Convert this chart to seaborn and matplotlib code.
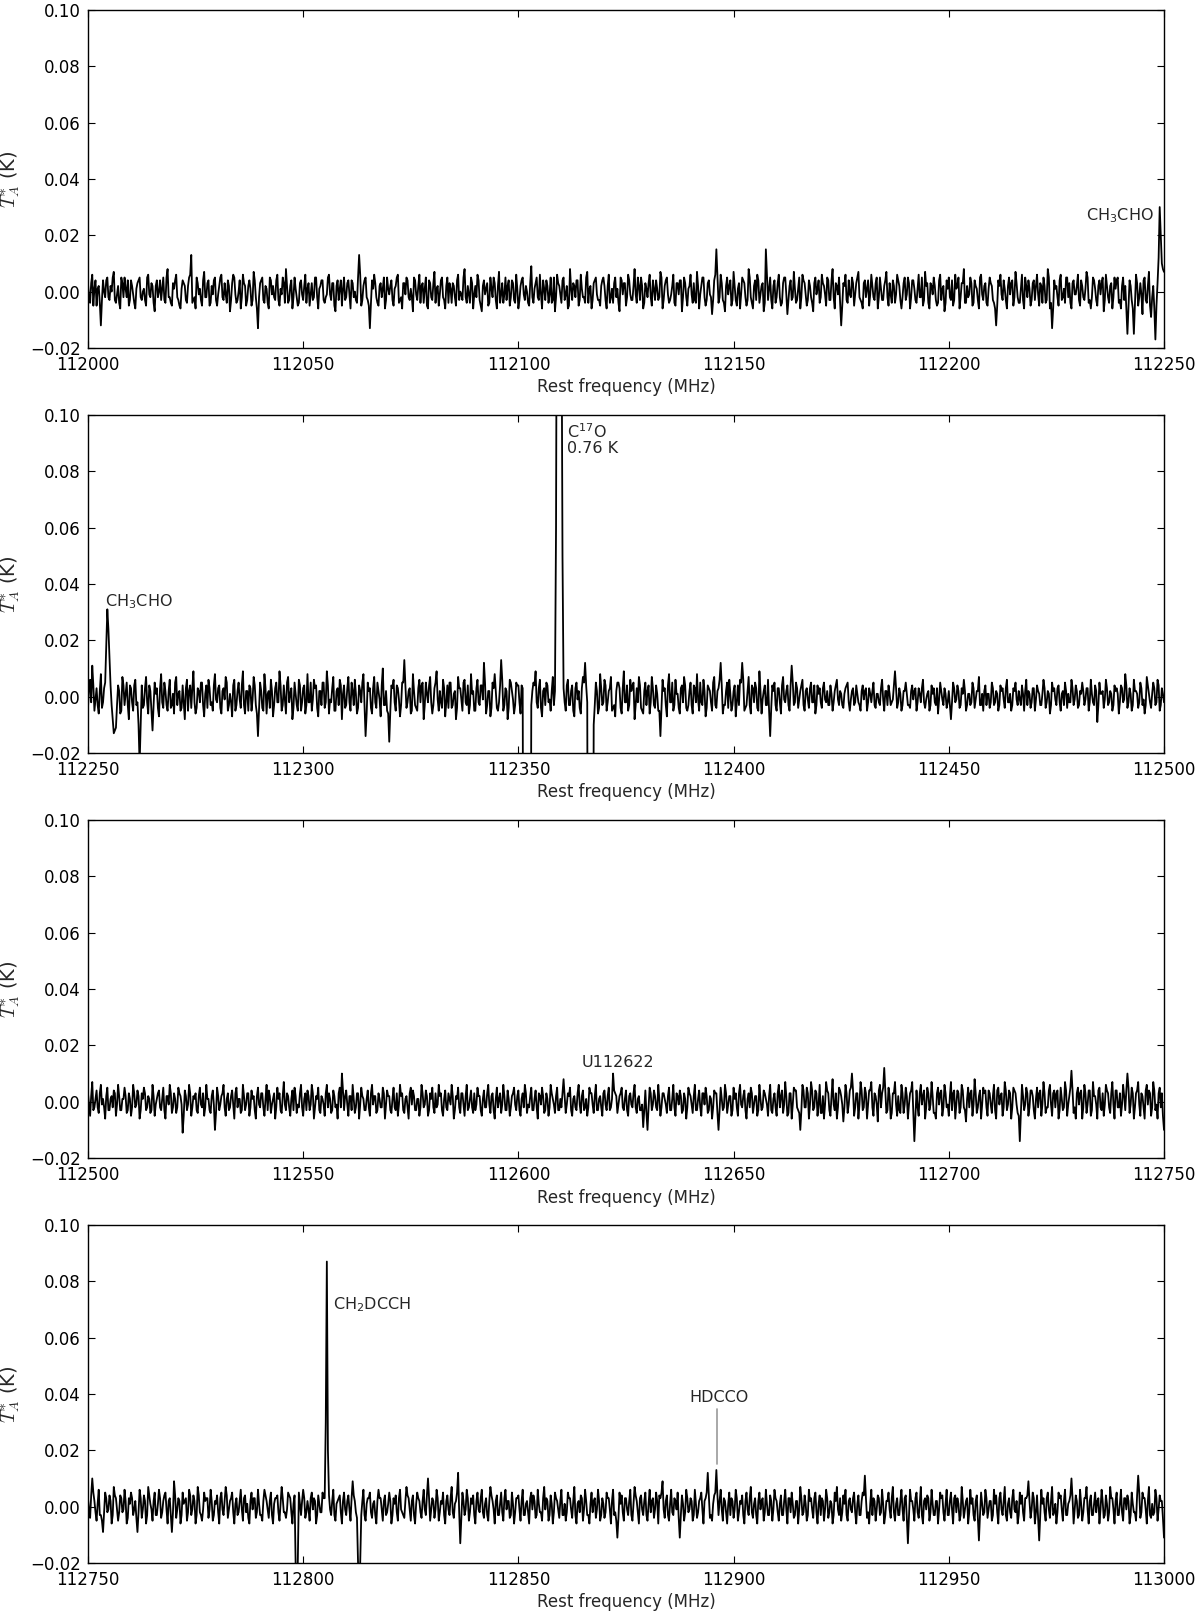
import numpy as np
import pandas as pd
import matplotlib
matplotlib.use("Agg")
import matplotlib.pyplot as plt
import seaborn as sns

# ---------------- data (antenna temperature in mK) ----------------
# main channels every 0.5 MHz, plus in-between channels (offset 0.25 MHz)
panel_starts = [112000, 112250, 112500, 112750]
channel_step = 0.5

spec1_mK = """
3 -4 6 1 -5 2 -12 4 -2 5 -3 0 7 -4 2 -6 3 5 -2 -5
4 -1 -6 3 5 -3 1 -5 6 -2 2 -7 4 0 -3 5 -4 8 -2 -5
1 6 -3 -6 4 2 -4 5 13 -3 -6 3 1 -5 7 -2 4 -4 -1 5
-5 2 6 -3 -1 4 -7 3 5 -4 0 -6 6 2 -3 4 -5 7 -2 -13
3 5 -4 1 -6 4 2 -3 6 -5 -1 3 8 -4 2 -6 5 -2 -4 4
-3 6 1 -5 3 -2 5 -6 2 4 -4 -1 6 -3 3 -7 4 1 -5 5
-2 4 -6 3 0 -4 13 -5 2 5 -3 -13 4 6 -2 -5 3 1 -6 5
-1 4 -5 2 6 -3 -6 3 5 -2 1 -7 4 -3 6 2 -4 5 -6 3
-3 7 1 -5 4 -2 -6 5 3 -4 2 -5 6 0 -3 8 -4 -1 5 -6
2 6 -3 -7 4 1 -5 5 -2 3 -6 7 -1 -4 5 2 -5 4 -3 6
-6 2 5 -3 0 -5 9 -4 3 -2 6 -6 1 4 -4 5 -3 -7 6 2
-4 5 -1 -6 8 -3 2 4 -5 6 -2 -4 7 1 -6 3 5 -3 -5 4
2 -6 6 -2 -4 5 1 -7 4 3 -5 6 -1 -3 8 -4 2 5 -6 3
-2 6 -5 1 4 -3 7 -6 2 5 -4 -1 6 -5 3 4 -7 5 -2 1
6 -4 -3 7 -6 2 5 -5 3 -1 -8 4 15 -4 6 -3 -7 5 2 -5
7 -3 1 -6 5 3 -5 8 -2 -6 4 6 -4 2 -7 15 -3 5 -6 4
-2 6 -5 3 5 -8 2 -3 7 -4 1 -6 6 3 -5 4 -2 -7 5 1
-4 6 2 -5 4 -3 8 -6 2 5 -12 3 6 -4 -1 5 -5 3 7 -3
-6 4 1 -5 6 -2 3 -6 5 -3 2 7 -5 -1 4 -4 6 2 -6 3
-3 5 -6 4 1 -4 6 -2 -5 7 3 -6 2 5 -3 -4 6 1 -7 4
5 -3 -5 6 2 -6 3 8 -4 -2 5 -5 4 1 -6 6 -3 3 -5 5
2 -4 -12 4 6 -3 1 -6 5 3 -5 7 -2 -4 6 -6 2 4 -5 3
-3 6 -5 2 5 -4 8 -6 -13 4 2 -5 6 -2 -4 5 3 -6 4 -1
6 -5 2 -3 7 -4 -6 5 1 -5 4 3 -7 6 -2 2 -6 5 4 -4
-6 5 2 -15 4 -3 -15 6 -5 3 -8 5 -4 7 -9 2 -17 3 30 10
7
"""
mid1_mK = """
-2 3 -5 4 1 -4 -3 0 4 -2 2 5 -3 -1 -4 5 -2 1 4 -3
2 -4 1 4 -2 0 -3 5 -1 3 -4 2 -2 4 1 -3 5 -2 -4 3
4 -2 -5 1 3 -3 2 6 -4 -2 5 -1 -3 4 -2 3 -5 2 4 -3
-1 5 -2 3 -4 2 -3 6 -1 -3 4 -2 3 -5 2 1 -3 4 -6 -2
4 -3 2 -4 5 -1 -2 4 -3 1 5 -4 2 -3 4 -2 1 -5 3 -1
2 -4 3 -1 -3 5 -2 1 4 -3 -2 5 -1 3 -5 2 -3 4 1 -3
3 -1 4 -2 -3 5 6 -3 4 -2 -5 -4 1 3 -4 2 -2 5 -3 1
2 -3 1 5 -4 -2 3 -1 4 -3 -2 5 -1 2 -4 3 1 -5 4 -2
3 -4 2 -1 5 -3 2 -4 1 3 -2 4 -3 -1 5 -2 2 -4 3 -1
-2 4 -5 2 -1 3 -4 1 5 -3 2 -4 3 -1 -3 4 -2 3 -4 1
-3 4 -1 2 -4 3 -2 1 5 -3 -1 4 -3 2 -1 -4 5 -2 3 -1
4 -3 2 -5 1 3 -2 4 -3 1 -2 5 -4 2 -3 4 -1 -3 2 5
-3 2 -4 1 3 -2 -4 5 -1 3 -2 4 -3 2 -1 5 -3 2 -4 1
3 -2 4 -3 1 -2 5 -3 4 -1 -3 2 -4 3 -1 4 -2 3 -5 2
-1 3 -4 2 -1 5 -2 -3 4 -2 -3 6 5 -2 3 -4 2 -1 4 -3
2 -5 3 -1 4 -2 -3 5 -4 2 -3 4 -1 3 -4 6 1 -3 2 -4
3 -2 -4 5 -1 -3 4 -2 1 -3 5 -2 4 -1 -3 2 -4 3 -1 4
-2 3 -1 5 -3 4 -2 3 -1 -4 -5 2 -3 4 -2 3 -1 5 -2 -4
3 -2 4 -1 2 -3 5 -2 1 -3 4 -2 3 -4 2 -1 4 -3 -2 5
-1 3 -2 4 -3 1 -2 5 -3 2 -4 3 -1 2 -5 4 -3 2 -4 1
-2 4 -3 1 5 -2 3 -4 2 -1 3 -4 2 -3 5 -1 2 -4 1 3
-3 -6 -5 2 -1 4 -3 2 -1 4 -2 3 -4 1 -3 5 -2 1 -3 4
2 -1 3 -4 2 -3 5 -4 -6 1 -2 4 -3 1 5 -2 -4 3 -1 2
-3 4 -2 1 5 -3 -2 4 -3 2 -1 5 -3 2 -4 3 -2 1 5 -3
2 -3 -6 -5 2 -6 -4 3 -2 -1 4 -3 2 -5 -2 -6 -5 12 20 8
"""

spec2_mK = """
-4 6 11 -5 3 -6 8 -2 5 31 14 -3 -13 -11 4 -6 7 -3 5 -8
3 -5 6 -2 -24 4 -3 7 -6 2 -12 5 3 -7 8 -4 2 -5 6 -3
-6 7 1 -5 4 -8 6 2 -4 9 -6 3 -2 5 -7 4 6 -3 -5 8
-2 4 -6 3 7 -5 1 -7 6 -3 5 -4 9 -6 2 4 -5 7 -3 -14
5 -4 8 -6 2 6 -7 3 -2 9 -5 4 -6 7 1 -8 5 -3 6 -5
3 -6 8 -2 -5 6 4 -7 2 5 -4 9 -6 -2 7 -5 3 6 -8 4
-3 7 -5 2 6 -6 4 -2 8 -14 5 3 -6 7 -4 2 -7 10 -3 -5
-16 4 6 -5 3 -7 5 13 -4 2 -6 8 -3 -5 6 4 -8 5 -2 7
-6 3 9 -5 -2 6 -7 4 5 -4 1 -8 7 3 -5 6 -3 -6 8 2
-5 6 -3 4 12 -6 2 -7 5 8 -4 -2 13 -5 3 -8 6 2 -6 5
4 -6 3 -300 -250 -300 -3 5 9 -4 6 -7 3 5 -2 -5 7 2 200 760
150 3 -5 6 -3 4 -7 5 2 -6 7 12 -2 -300 -280 -10 5 -6 8 -3
6 -5 2 7 -4 -7 5 3 -6 9 -2 -5 6 4 -8 3 7 -4 -6 5
2 -6 7 -3 4 -5 -14 6 3 -7 8 -2 -5 6 1 -6 4 7 -4 -3
5 -6 3 8 -5 -2 6 -7 4 2 -5 7 -4 3 12 -6 -3 5 6 -5
2 -7 4 6 12 -5 -3 7 -6 3 5 -4 9 -6 2 -3 6 -14 4 5
-5 3 -6 7 -2 4 -5 11 -3 5 -4 2 6 -5 3 -4 5 -2 -6 4
3 -4 5 -2 -3 4 -5 2 6 -3 1 -4 3 5 -5 2 -3 4 -2 -5
4 2 -5 3 -2 5 -4 1 -3 6 -5 2 4 -3 -1 9 -4 3 -5 2
5 -3 -4 4 2 -5 3 -2 6 -4 1 -5 4 3 -3 -6 5 -1 3 -4
2 -8 5 -2 4 -4 3 6 -5 1 -3 5 -4 2 7 -3 -5 4 1 -4
5 -3 2 -5 4 3 -4 6 -2 -5 3 5 -3 -1 4 -5 6 2 -4 3
-5 4 1 -3 6 -4 2 -6 5 3 -3 4 -5 2 5 -4 -2 6 -3 4
-4 2 5 -3 3 -5 6 -2 4 -9 5 1 -4 6 -3 2 -5 4 3 -6
4 -2 8 -4 3 -5 6 2 -4 5 -3 -6 7 1 -4 5 -3 6 -5 3
-2
"""
mid2_mK = """
3 -2 4 -1 -3 2 -4 3 18 24 4 -8 -12 -3 2 -5 4 1 -3 4
-2 4 -3 -10 -10 -4 3 -2 4 -5 -3 1 -4 3 -2 5 -3 2 -4 1
5 -3 2 -4 -2 3 -5 4 3 -2 -4 2 5 -3 1 -4 3 -2 4 -1
3 -4 2 -1 5 -3 -2 4 -5 2 -1 4 -3 2 -5 3 -1 4 -6 -4
2 -5 3 1 -4 2 -3 5 -2 4 -3 -1 5 -2 3 -4 1 -5 4 -2
4 -3 -2 5 -1 3 -4 2 -3 5 -2 4 -1 3 -5 2 -3 4 1 -4
3 -2 5 -3 1 -4 2 5 -3 -6 2 -4 3 -2 5 -1 4 -3 2 -6
-5 3 -2 4 -1 -3 5 4 -2 3 -5 2 -4 3 -2 5 -3 1 4 -2
-3 5 -1 2 -4 3 -2 -4 5 -3 2 -4 3 -1 5 -2 4 -3 1 -5
3 -2 4 -1 5 -3 2 -4 3 2 -5 4 6 -3 2 -4 5 -1 -3 4
-2 4 -150 -280 -280 -150 2 4 -2 3 -4 2 -3 4 -1 2 -3 60 500 450
50 -2 4 -3 2 -5 3 -1 -4 3 5 4 -150 -290 -140 -3 2 -4 3 -2
4 -2 3 -5 -3 2 5 -4 3 -2 4 -3 2 5 -3 -2 4 -5 2 -3
4 -2 3 -4 1 -5 -4 2 -3 4 -2 5 -3 1 -4 3 -2 4 -5 2
-3 4 -2 -1 5 -3 2 -4 3 -2 5 -3 2 6 4 -3 2 -4 1 -3
4 -2 -3 5 6 -4 2 -3 4 -2 3 -5 2 -1 4 -3 -5 -4 2 -3
3 -2 4 -1 2 -3 4 5 -2 3 -1 4 -3 2 -1 3 -2 4 -3 1
-2 3 -1 2 -3 1 -2 4 -1 2 -3 1 4 -2 -1 3 -2 1 -3 2
-1 3 -2 1 2 -3 1 -2 3 -1 2 -3 1 -2 4 3 -2 1 -3 2
1 -3 2 -1 3 -2 1 3 -2 -1 2 -3 1 -2 3 -1 2 -3 1 -2
-3 -2 3 -1 2 -3 1 2 -3 1 -2 3 -1 2 -3 1 2 -3 1 -2
3 -2 1 -3 2 -1 3 -2 1 -3 2 -1 2 -3 1 2 -3 1 -2 3
-1 2 -3 1 3 -2 1 -3 2 -1 3 -2 1 -3 2 1 -2 3 -1 2
-3 1 2 -1 3 -2 1 -3 2 -3 1 2 -1 3 -2 1 -3 2 1 -2
3 -1 4 -2 1 -3 2 1 -2 3 -1 -3 4 -2 1 3 -2 4 -3 1
"""

spec3_mK = """
3 -5 7 -2 4 -4 6 1 -6 5 -3 2 4 -5 6 -3 1 5 -4 3
-5 6 -2 4 -6 3 5 -3 2 -4 6 -5 1 4 -3 5 -6 2 6 -4
3 -4 5 2 -11 4 -3 6 -5 2 3 -4 5 -2 -5 6 1 -4 4 -10
5 -3 2 6 -5 3 -2 4 -6 5 1 -4 6 -3 3 -5 4 2 -6 5
-2 3 -5 6 4 -4 1 -6 5 3 -4 7 -3 2 -5 4 5 -4 -2 6
-5 3 4 -3 6 -6 2 5 -4 1 -5 6 3 -4 4 -2 -6 5 10 -3
4 -5 2 6 -4 3 -6 5 1 -3 4 -5 6 2 -4 3 -2 5 -6 4
2 -4 5 -3 -5 6 3 -4 2 -6 5 4 -3 1 -5 6 -2 4 -5 3
5 -4 -2 6 3 -5 4 -3 1 6 -6 2 5 -4 3 -5 6 -2 4 -4
-3 5 2 -5 4 -2 6 -4 3 -6 5 1 -4 6 -3 4 -5 2 5 -3
4 -5 3 6 -4 -2 5 -3 4 -6 2 5 -4 3 -5 6 1 -4 5 -3
-2 8 -4 3 5 -5 2 -3 6 -4 4 -2 -5 5 3 -4 6 -3 2 -5
4 -3 5 -2 10 3 -4 2 5 -3 4 -5 3 -2 6 -4 2 -3 -9 4
-10 5 -3 4 -2 6 -5 3 1 -4 5 -3 6 -5 2 4 -4 3 -6 5
2 -4 6 -3 4 -5 3 5 -4 2 -6 4 3 -10 5 -3 6 -4 2 -5
5 3 -5 6 -2 4 -6 3 5 -4 2 -5 6 -3 4 1 -5 6 -4 3
-5 6 2 -4 7 -5 3 -6 5 4 -3 -10 6 -2 5 -6 7 -3 4 -5
6 -4 -6 7 3 -5 8 -3 -6 5 2 -7 6 -4 4 10 -5 3 -6 7
-3 5 -6 4 7 -5 2 -7 6 3 12 -4 5 -6 3 7 -5 -3 6 -4
5 -6 3 7 -14 4 -5 6 2 -6 5 -3 7 -4 -6 5 3 -5 6 -2
-5 7 3 -6 4 -4 6 -2 -7 5 3 -5 8 -4 2 -6 5 4 -5 3
-4 6 -6 5 2 -5 7 -3 4 -6 5 3 -4 -14 6 -3 5 -5 4 2
-6 5 3 -5 7 -4 -2 6 -5 4 3 -6 5 -3 7 -5 2 11 -4 -6
5 3 -6 6 -4 4 -5 7 2 -6 5 -3 -5 6 3 -4 7 -6 4 -2
-5 6 -3 10 -4 5 -6 3 7 -5 2 -6 6 4 -5 7 -3 -6 5 3
-10
"""
mid3_mK = """
-1 2 -3 1 -2 3 -1 -2 2 -3 1 -2 3 -1 2 -3 1 2 -3 1
-2 3 -1 2 -3 1 3 -2 1 -3 2 -1 3 -2 1 -3 2 -1 3 -2
1 -2 3 -1 -5 2 -1 3 -2 1 -3 2 -1 3 -2 1 -3 2 -1 -4
2 -1 3 -2 1 -3 2 -1 3 -2 1 -3 2 -1 3 -2 1 -3 2 -1
3 -2 1 -3 2 -1 3 -2 1 -3 2 -1 3 -2 1 -3 2 -1 3 -2
1 -3 2 -1 3 -2 1 -3 2 -1 3 -2 1 -3 2 -1 3 -2 4 2
-1 2 -3 1 -2 3 -1 2 -3 1 -2 3 -1 2 -3 1 -2 3 -1 2
-3 1 -2 3 -1 2 -3 1 -2 3 -1 2 -3 1 -2 3 -1 2 -3 1
-2 3 -1 2 -3 1 -2 3 -1 2 -3 1 -2 3 -1 2 -3 1 -2 3
-1 2 -3 1 -2 3 -1 2 -3 1 -2 3 -1 2 -3 1 -2 3 -1 2
-3 1 -2 3 -1 2 -3 1 -2 3 -1 2 -3 1 -2 3 -1 2 -3 1
3 2 -1 2 -3 1 -2 3 -1 2 -3 1 -2 3 -1 2 -3 1 -2 3
-1 2 -3 1 4 2 -1 3 -2 1 -3 2 -1 3 -2 1 -3 -1 -3 -4
-2 3 -1 2 -3 1 -2 3 -1 2 -3 1 -2 3 -1 2 -3 1 -2 3
-1 2 -3 1 -2 3 -1 2 -3 1 -2 3 -4 -3 1 -2 3 -1 2 -3
1 -2 3 -1 2 -3 1 -2 3 -1 2 -3 1 -2 3 -1 2 -3 1 -2
3 -2 4 -1 2 -4 3 -1 4 -2 -4 -3 4 -2 3 -1 4 -2 3 -1
-4 2 -1 4 -3 2 -1 3 -2 4 -1 -2 3 -1 5 4 -2 3 -1 4
-2 3 -1 4 -2 3 -1 4 -2 5 4 -3 2 -4 3 -1 2 -4 3 -1
2 -1 4 -4 -5 -2 3 -1 4 -2 3 -1 2 -4 3 -1 4 -2 3 -1
2 -3 4 -1 3 -2 4 -3 1 -2 4 -1 3 -2 4 -1 3 -2 4 -1
2 -3 4 -1 3 -2 4 -1 3 -2 4 -1 -5 -4 2 -1 3 -2 4 -3
1 -2 4 -1 3 -2 4 -1 3 -2 4 -3 1 -2 4 -1 5 4 -2 3
-1 4 -2 3 -1 4 -3 2 -1 4 -2 3 -1 4 -2 3 -1 4 -2 3
-1 2 4 5 -1 3 -2 4 -1 3 -2 4 -1 3 -2 4 -1 3 -2 -5
"""

spec4_mK = """
3 -4 10 2 -5 6 -3 -9 5 -2 4 -6 7 3 -5 4 -2 6 -6 3
5 -3 2 -9 6 -4 4 -6 7 1 -5 5 -3 6 -4 2 5 -6 3 -9
9 -4 3 -6 5 2 -5 6 -3 4 -6 7 -2 -5 5 3 -4 6 -5 2
4 -6 5 -3 7 -4 2 5 -6 3 -2 6 -5 4 1 -6 5 3 -4 6
-3 -5 6 2 -4 5 -6 3 4 -5 7 -2 -4 5 3 -6 4 -45 5 -3
6 -4 2 -5 5 3 -6 4 -2 5 3 87 4 -3 6 -5 2 4 -6 5
-3 4 -5 9 2 -4 -45 -3 6 -5 3 5 -4 2 -6 6 3 -5 4 -2
5 -6 3 4 -5 6 -2 -4 7 3 -5 4 -6 5 2 -4 6 -3 10 -5
3 -4 6 -5 2 5 -6 4 -3 7 -4 2 12 -13 5 -3 6 -5 3 4
-6 5 -2 6 -4 3 -5 7 2 -6 4 -3 5 -5 6 2 -4 5 -6 3
4 -5 6 -3 2 -6 5 4 -4 6 -2 -5 7 3 -5 4 -6 5 2 -4
6 -3 -5 5 3 -4 7 -6 2 4 -5 6 -3 -6 5 2 -4 6 -5 3
-4 5 3 -6 6 -2 -11 5 4 -5 3 -3 6 -5 7 2 -6 4 -3 5
-5 6 2 -4 5 -6 3 9 -4 4 -5 6 -3 2 5 -11 4 -5 6 -2
3 -5 6 -4 2 5 -6 3 12 -4 -5 4 13 -3 6 -5 2 -6 5 3
-4 6 -5 2 4 -6 5 -3 7 -4 3 -6 5 2 -5 6 -3 4 -5 6
2 -5 4 -3 6 -6 3 5 -4 2 -6 7 -3 4 -5 6 3 -4 5 -6
4 3 -5 6 -4 2 -6 5 7 -3 -5 4 6 -5 3 -2 5 -6 4 -3
5 11 -4 -6 6 3 -5 4 -3 6 -6 2 5 -4 7 -5 3 -3 6 -5
4 -13 6 2 -5 5 -4 7 -6 3 4 -5 6 -3 2 -6 5 4 -5 6
-3 5 -6 4 3 -5 7 -4 2 -6 6 3 -5 4 -12 5 -3 6 -4 2
-5 6 4 -6 5 -3 7 -5 3 -4 6 -2 -6 5 4 -5 3 9 -4 5
-6 4 -12 6 3 -5 5 -4 7 -2 -6 5 4 -5 6 -3 2 10 -6 4
-4 6 -5 3 7 -6 4 -3 5 2 -6 6 -4 4 -5 7 3 -6 5 -3
6 -5 3 4 -6 5 -2 -5 11 -4 5 3 -6 7 -4 -3 6 -5 4 2
-11
"""
mid4_mK = """
-1 4 5 -2 1 -3 -5 -2 3 -1 2 -3 4 -1 -2 3 -1 2 -4 1
3 -1 -4 -2 3 -1 2 -3 4 -1 2 -3 1 3 -2 4 -1 2 -3 -2
4 -1 2 -3 1 3 -2 4 -1 2 -3 4 -3 -1 2 3 -1 2 -3 1
-2 3 -1 2 4 -1 3 -2 1 -3 2 -1 3 -2 -4 2 -1 3 -2 1
-3 2 4 -1 2 -3 1 3 -2 1 3 -2 -1 4 -2 1 -20 -20 1 2
3 -2 -1 3 -1 2 -3 1 -2 3 30 20 -1 2 -3 1 3 -2 2 -1
2 -1 3 4 -2 -20 -20 2 -3 1 3 -2 1 -3 2 3 -1 2 -3 1
2 -3 1 -2 3 -1 -3 2 4 -1 2 -3 1 3 -2 2 -1 4 3 -1
2 -1 3 -2 1 -3 2 -1 3 -2 1 5 -2 -4 2 -1 3 -2 1 -3
2 -1 3 -2 1 -3 2 4 -1 2 -3 1 -2 3 -1 2 -3 1 -2 3
-1 2 -3 1 -2 3 -1 2 -3 1 -2 3 -1 2 -3 1 -2 3 -1 2
-3 1 -2 3 -1 2 -3 1 -2 3 -1 2 -3 1 -2 3 -1 2 -3 1
-2 3 -1 2 -3 -5 -4 1 -2 3 -1 2 -3 1 4 -2 3 -1 2 -3
1 -2 3 -1 2 4 5 -1 2 -3 1 -2 3 -1 -4 -3 1 -2 3 -1
2 -3 1 -2 3 -1 2 5 4 -3 1 5 4 2 -1 3 -2 1 -3 2
-1 3 -2 1 -3 2 -1 3 -2 1 -3 2 -1 3 -2 1 -3 2 -1 3
-2 1 -3 2 -1 3 -2 1 -3 2 -1 3 -2 1 -3 2 -1 3 -2 1
-3 2 -1 3 -2 1 -3 2 -1 3 -2 1 -3 2 -1 3 -2 1 -3 2
4 3 -2 1 -3 2 -1 3 -2 1 -3 2 -1 3 -2 1 -3 2 -1 3
-4 -3 2 -1 3 -2 1 -3 2 -1 3 -2 1 -3 2 -1 3 -2 1 -3
2 -1 3 -2 1 -3 2 -1 3 -2 1 -3 2 -4 -3 1 -2 3 -1 2
-3 1 -2 3 -1 2 -3 1 -2 3 -1 2 -3 1 -2 3 4 2 -1 3
-2 -4 -3 1 -2 3 -1 2 -3 1 -2 3 -1 2 -3 1 4 3 -1 2
-3 1 -2 3 -1 2 -3 1 -2 3 -1 2 -3 1 -2 3 -1 2 -3 1
-2 3 -1 2 -3 1 -2 4 5 -2 3 -1 2 -3 1 -2 3 -1 2 -4
"""

spectra_mK = [spec1_mK, spec2_mK, spec3_mK, spec4_mK]
mids_mK = [mid1_mK, mid2_mK, mid3_mK, mid4_mK]

# line labels
label_panel = [0, 1, 1, 2, 3, 3]
label_freq = [112247.6, 112254.0, 112361.3, 112623.1, 112806.9, 112896.6]
label_temp = [0.0270, 0.0337, 0.0975, 0.0112, 0.0716, 0.0360]
label_text = ["CH$_3$CHO", "CH$_3$CHO", "C$^{17}$O\n0.76 K", "U112622",
              "CH$_2$DCCH", "HDCCO"]
label_ha = ["right", "left", "left", "center", "left", "center"]
label_va = ["center", "center", "top", "bottom", "center", "bottom"]

# gray marker for HDCCO
hdcco_freq = 112896.1
hdcco_temp = [0.0152, 0.0346]

yticks = [-0.02, 0.00, 0.02, 0.04, 0.06, 0.08, 0.10]

# ---------------- figure ----------------
sns.set_style("ticks")
plt.rcParams["font.family"] = ["DejaVu Sans"]
plt.rcParams.update({
    "xtick.direction": "in", "ytick.direction": "in",
    "xtick.top": True, "ytick.right": True,
    "xtick.major.size": 5, "ytick.major.size": 5,
    "xtick.major.width": 0.8, "ytick.major.width": 0.8,
    "axes.linewidth": 1.0, "axes.edgecolor": "black",
    "xtick.color": "black", "ytick.color": "black",
})

fig = plt.figure(figsize=(12, 16.19), dpi=100)
bottoms = [0.7851, 0.5349, 0.2847, 0.0346]
left, width, height = 0.0733, 0.8967, 0.2088

for i, (f0, spec, mid) in enumerate(zip(panel_starts, spectra_mK, mids_mK)):
    main_v = np.array(spec.split(), dtype=float)
    mid_v = np.array(mid.split(), dtype=float)
    n_mid = min(len(mid_v), len(main_v) - 1)
    main_f = f0 + channel_step * np.arange(len(main_v))
    mid_f = f0 + channel_step * np.arange(n_mid) + channel_step / 2
    df = pd.DataFrame({"freq": np.concatenate([main_f, mid_f]),
                       "T": np.concatenate([main_v, mid_v[:n_mid]]) / 1000.0})
    df = df.sort_values("freq")
    f1 = f0 + 250
    ax = fig.add_axes([left, bottoms[i], width, height])
    sns.lineplot(data=df, x="freq", y="T", ax=ax, color="black",
                 linewidth=1.3, estimator=None, sort=False)
    ax.set_xlim(f0, f1)
    ax.set_ylim(-0.02, 0.10)
    xt = np.arange(f0, f1 + 1, 50)
    ax.set_xticks(xt)
    ax.set_xticklabels([str(int(t)) for t in xt])
    ax.set_yticks(yticks)
    ax.set_yticklabels([("\u22120.02" if t < 0 else f"{t:.2f}") for t in yticks])
    ax.tick_params(axis="both", labelsize=12)
    ax.tick_params(axis="x", pad=6)
    ax.tick_params(axis="y", pad=5)
    ax.set_xlabel("Rest frequency (MHz)", fontsize=12, labelpad=3)
    ax.set_ylabel("$T_A^{*}$ (K)", fontsize=14, math_fontfamily="cm", labelpad=6)
    for s in ax.spines.values():
        s.set_visible(True)
        s.set_color("black")

    for p, fx, ty, txt, ha, va in zip(label_panel, label_freq, label_temp,
                                      label_text, label_ha, label_va):
        if p == i:
            ax.text(fx, ty, txt, ha=ha, va=va, fontsize=11.5, linespacing=1.05)
    if i == 3:
        ax.plot([hdcco_freq, hdcco_freq], hdcco_temp, color="#999999", lw=1.2)

fig.savefig("out.png", dpi=100)
